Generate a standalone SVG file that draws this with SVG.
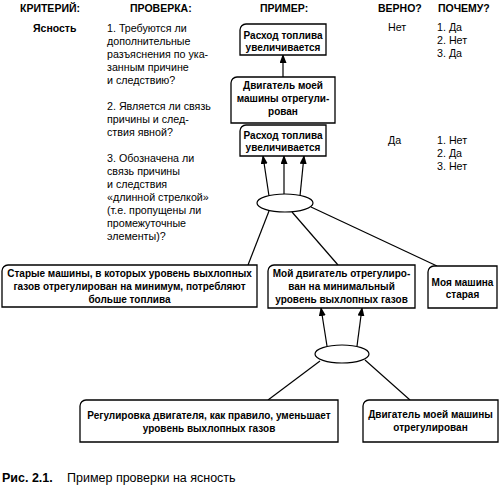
<svg xmlns="http://www.w3.org/2000/svg" width="500" height="489" viewBox="0 0 500 489">
<style>
text{font-family:"Liberation Sans",Arial,sans-serif;fill:#000}
.h{font-size:10.5px;font-weight:bold}
.t{font-size:10.7px}
.b{font-size:10px;font-weight:bold;text-anchor:middle}
.box{fill:#fff;stroke:#000;stroke-width:1.3}
.j{fill:#fff;stroke:#000;stroke-width:1.2}
.c{stroke:#000;stroke-width:1.2;fill:none}
.a{marker-end:url(#ah)}
</style>
<defs>
<marker id="ah" markerUnits="userSpaceOnUse" markerWidth="9" markerHeight="7" refX="8" refY="3.5" orient="auto">
<path d="M0,0 L9,3.5 L0,7 Z" fill="#000"/>
</marker>
</defs>
<rect width="500" height="489" fill="#fff"/>
<g id="headers">
<text class="h" x="20" y="12">КРИТЕРИЙ:</text>
<text class="h" x="130" y="12">ПРОВЕРКА:</text>
<text class="h" x="260" y="12">ПРИМЕР:</text>
<text class="h" x="378" y="12">ВЕРНО?</text>
<text class="h" x="438" y="12">ПОЧЕМУ?</text>
</g>
<g id="criterion"><text class="h" x="33" y="32">Ясность</text></g>
<g id="checks">
<text class="t" x="107" y="32">1. Требуются ли</text>
<text class="t" x="107" y="45">дополнительные</text>
<text class="t" x="107" y="58">разъяснения по ука-</text>
<text class="t" x="107" y="71">занным причине</text>
<text class="t" x="107" y="84">и следствию?</text>
<text class="t" x="107" y="110">2. Является ли связь</text>
<text class="t" x="107" y="123">причины и след-</text>
<text class="t" x="107" y="136">ствия явной?</text>
<text class="t" x="107" y="162">3. Обозначена ли</text>
<text class="t" x="107" y="175">связь причины</text>
<text class="t" x="107" y="188">и следствия</text>
<text class="t" x="107" y="201">«длинной стрелкой»</text>
<text class="t" x="107" y="214">(т.е. пропущены ли</text>
<text class="t" x="107" y="227">промежуточные</text>
<text class="t" x="107" y="240">элементы)?</text>
</g>
<g id="verdicts">
<text class="t" x="388" y="31">Нет</text>
<text class="t" x="437" y="31">1. Да</text>
<text class="t" x="437" y="44">2. Нет</text>
<text class="t" x="437" y="57">3. Да</text>
<text class="t" x="388" y="144">Да</text>
<text class="t" x="437" y="144">1. Нет</text>
<text class="t" x="437" y="157">2. Да</text>
<text class="t" x="437" y="170">3. Нет</text>
</g>
<g id="connectors">
<line class="c a" x1="283" y1="77" x2="283" y2="55"/>
<line class="c a" x1="269" y1="196" x2="263" y2="156"/>
<line class="c a" x1="284" y1="194" x2="284" y2="156"/>
<line class="c a" x1="300" y1="196" x2="304" y2="156"/>
<line class="c" x1="269" y1="211" x2="248" y2="265"/>
<line class="c" x1="292" y1="212" x2="338" y2="265"/>
<line class="c" x1="311" y1="207" x2="437" y2="266"/>
<line class="c a" x1="327" y1="346" x2="321" y2="308"/>
<line class="c a" x1="357" y1="346" x2="362" y2="308"/>
<line class="c" x1="320" y1="361" x2="268" y2="400"/>
<line class="c" x1="365" y1="360" x2="410" y2="400"/>
</g>
<g id="n1">
<path class="box" d="M240,30 A6,6 0 0 1 246,24 H326 V55 H240 Z"/>
<text class="b" x="283" y="39">Расход топлива</text>
<text class="b" x="283" y="51">увеличивается</text>
</g>
<g id="n2">
<path class="box" d="M231,83 A6,6 0 0 1 237,77 H335 V123 H231 Z"/>
<text class="b" x="283" y="89">Двигатель моей</text>
<text class="b" x="283" y="102">машины отрегули-</text>
<text class="b" x="283" y="115">рован</text>
</g>
<g id="n3">
<path class="box" d="M240,131 A6,6 0 0 1 246,125 H326 V156 H240 Z"/>
<text class="b" x="283" y="139">Расход топлива</text>
<text class="b" x="283" y="151">увеличивается</text>
</g>
<g id="j1"><ellipse class="j" cx="285" cy="203" rx="28" ry="9"/></g>
<g id="n4">
<path class="box" d="M2,271 A6,6 0 0 1 8,265 H257 V307 H2 Z"/>
<text class="b" x="129.5" y="277">Старые машины, в которых уровень выхлопных</text>
<text class="b" x="129.5" y="290">газов отрегулирован на минимум, потребляют</text>
<text class="b" x="129.5" y="303">больше топлива</text>
</g>
<g id="n5">
<path class="box" d="M268,271 A6,6 0 0 1 274,265 H415 V308 H268 Z"/>
<text class="b" x="341.5" y="277">Мой двигатель отрегулиро-</text>
<text class="b" x="341.5" y="290">ван на минимальный</text>
<text class="b" x="341.5" y="303">уровень выхлопных газов</text>
</g>
<g id="n6">
<path class="box" d="M428,272 A6,6 0 0 1 434,266 H497 V308 H428 Z"/>
<text class="b" x="462.5" y="286">Моя машина</text>
<text class="b" x="462.5" y="298">старая</text>
</g>
<g id="j2"><ellipse class="j" cx="342" cy="354" rx="27" ry="9"/></g>
<g id="n7">
<path class="box" d="M80,406 A6,6 0 0 1 86,400 H338 V442 H80 Z"/>
<text class="b" x="209" y="419">Регулировка двигателя, как правило, уменьшает</text>
<text class="b" x="209" y="432">уровень выхлопных газов</text>
</g>
<g id="n8">
<path class="box" d="M363,406 A6,6 0 0 1 369,400 H498 V442 H363 Z"/>
<text class="b" x="430.5" y="418">Двигатель моей машины</text>
<text class="b" x="430.5" y="431">отрегулирован</text>
</g>
<g id="caption">
<text x="2" y="482" style="font-size:12.5px;font-weight:bold">Рис. 2.1.</text>
<text x="67" y="482" style="font-size:12.5px">Пример проверки на ясность</text>
</g>
</svg>
